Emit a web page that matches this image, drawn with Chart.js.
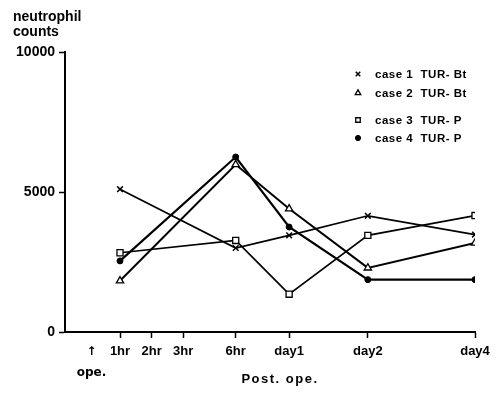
<!DOCTYPE html>
<html>
<head>
<meta charset="utf-8">
<script src="https://cdn.jsdelivr.net/npm/chart.js@4.4.1/dist/chart.umd.min.js"></script>
<style>
  html, body { margin: 0; padding: 0; background: #fff; }
  #wrap { width: 497px; height: 399px; }
</style>
</head>
<body>
<div id="wrap"><canvas id="c" width="497" height="399"></canvas></div>
<script>
// Sampling times after the operation
const timePoints = ['1hr', '6hr', 'day1', 'day2', 'day4'];

// Neutrophil counts per case
const case1 = [5100, 3000, 3450, 4150, 3480];
const case2 = [1830, 5980, 4400, 2290, 3180];
const case3 = [2830, 3270, 1350, 3450, 4160];
const case4 = [2540, 6250, 3750, 1870, 1870];

const caseNames = ['case 1  TUR- Bt', 'case 2  TUR- Bt', 'case 3  TUR- P', 'case 4  TUR- P'];

// Time axis: one unit per hour early on, compressed for the later days
const tickKeys   = ['ope', '1hr', '2hr', '3hr', '6hr', 'day1', 'day2', 'day4'];
const tickLabels = [['\u2191', 'ope.'], '1hr', '2hr', '3hr', '6hr', 'day1', 'day2', 'day4'];
const tickSlots  = [0.1, 1, 2, 3, 4.66, 6.35, 8.84, 12.23];

const yTicks = [0, 5000, 10000];

const slotOf = key => tickSlots[tickKeys.indexOf(key)];
const toPoints = values => values.map((v, i) => ({ x: slotOf(timePoints[i]), y: v }));

const FONT = 'Liberation Sans';

const seriesStyles = [
  { pointStyle: 'crossRot', pointRadius: 4,   pointBackgroundColor: '#000', pointBorderWidth: 1.5, borderWidth: 1.7 },
  { pointStyle: 'triangle', pointRadius: 4.2, pointBackgroundColor: '#fff', pointBorderWidth: 1.3, borderWidth: 2 },
  { pointStyle: 'rect',     pointRadius: 4.3, pointBackgroundColor: '#fff', pointBorderWidth: 1.3, borderWidth: 1.7 },
  { pointStyle: 'circle',   pointRadius: 3,   pointBackgroundColor: '#000', pointBorderWidth: 1,   borderWidth: 2.2 }
];

const datasets = [case1, case2, case3, case4].map((vals, i) => Object.assign({
  label: caseNames[i],
  data: toPoints(vals),
  borderColor: '#000',
  pointBorderColor: '#000',
  tension: 0,
  fill: false
}, seriesStyles[i]));

// Free-standing texts and the legend block
const annotations = {
  id: 'annotations',
  afterDraw(chart) {
    const ctx = chart.ctx;
    ctx.save();
    ctx.fillStyle = '#000';
    ctx.textBaseline = 'alphabetic';
    ctx.textAlign = 'left';
    ctx.font = 'bold 14px "' + FONT + '"';
    ctx.fillText('neutrophil', 13, 21);
    ctx.fillText('counts', 13, 36);

    ctx.textAlign = 'center';
    ctx.font = 'bold 13px "' + FONT + '"';
    ctx.letterSpacing = '1.5px';
    ctx.fillText('Post. ope.', 280, 383);

    // legend
    const rows = [74, 93, 120, 138];
    ctx.font = 'bold 11.5px "' + FONT + '"';
    ctx.letterSpacing = '0.5px';
    ctx.textAlign = 'left';
    ctx.textBaseline = 'middle';
    chart.data.datasets.forEach((ds, i) => {
      ctx.strokeStyle = '#000';
      ctx.fillStyle = ds.pointBackgroundColor;
      ctx.lineWidth = ds.pointBorderWidth;
      Chart.helpers.drawPoint(ctx, {
        pointStyle: ds.pointStyle,
        radius: ds.pointStyle === 'circle' ? 2.6 : 3.2,
        rotation: 0,
        borderWidth: ds.pointBorderWidth
      }, 358, rows[i]);
      ctx.fillStyle = '#000';
      ctx.fillText(ds.label, 375, rows[i] + 1);
    });
    ctx.letterSpacing = '0px';
    ctx.restore();
  }
};

new Chart(document.getElementById('c'), {
  type: 'line',
  data: { datasets },
  plugins: [annotations],
  options: {
    responsive: false,
    animation: false,
    devicePixelRatio: 1,
    layout: { padding: { top: 52, right: 22, left: 0, bottom: 0 } },
    plugins: { legend: { display: false }, tooltip: { enabled: false } },
    scales: {
      x: {
        type: 'linear',
        min: -0.74,
        max: 12.23,
        afterBuildTicks: scale => { scale.ticks = tickSlots.map(v => ({ value: v })); },
        afterFit: scale => { scale.height = 67; },
        ticks: {
          autoSkip: false,
          maxRotation: 0,
          padding: 3,
          color: '#000',
          font: ctx => (ctx.index === 0
            ? { family: 'DejaVu Sans', size: 12, weight: 'bold', lineHeight: '21px' }
            : { family: FONT, size: 13, weight: 'bold', lineHeight: '21px' }),
          callback: (value, index) => tickLabels[index]
        },
        grid: {
          drawOnChartArea: false,
          drawTicks: true,
          tickLength: 6,
          tickWidth: 1.5,
          tickColor: ctx => (ctx.index === 0 ? 'rgba(0,0,0,0)' : '#000')
        },
        border: { display: true, color: '#000', width: 2 }
      },
      y: {
        min: 0,
        max: 10000,
        afterBuildTicks: scale => { scale.ticks = yTicks.map(v => ({ value: v })); },
        afterFit: scale => { scale.width = 65; },
        ticks: {
          padding: 4,
          color: '#000',
          font: { family: FONT, size: 14, weight: 'bold' },
          callback: value => String(value)
        },
        grid: {
          drawOnChartArea: false,
          drawTicks: true,
          tickLength: 6,
          tickWidth: 1.5,
          tickColor: '#000'
        },
        border: { display: true, color: '#000', width: 2 }
      }
    }
  }
});
</script>
</body>
</html>
